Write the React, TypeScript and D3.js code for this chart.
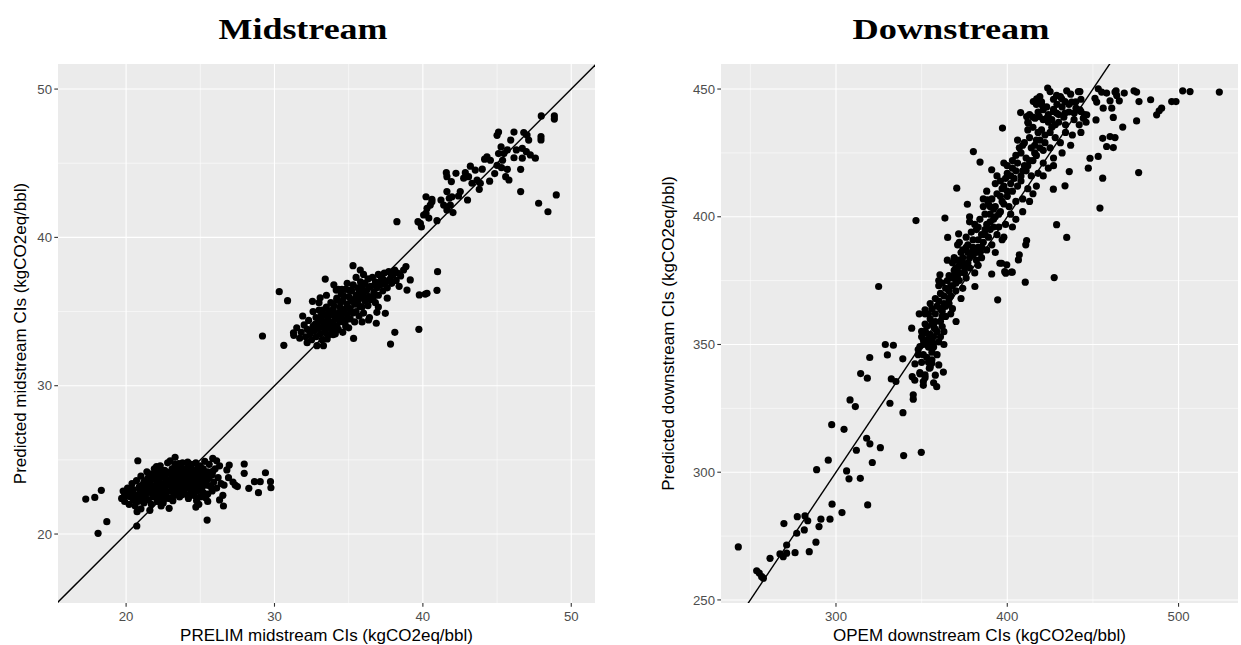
import React from "react";
import * as d3 from "d3";

// ---------- DATA ----------
const midTicks = [20, 30, 40, 50];
const midMinor = [25, 35, 45];
const downXTicks = [300, 400, 500];
const downXMinor = [250, 350, 450];
const downYTicks = [250, 300, 350, 400, 450];
const downYMinor = [275, 325, 375, 425];

// Midstream: [PRELIM, Predicted]
const midLow: [number, number][] = [
  [17.28, 22.36], [17.89, 22.47], [18.33, 22.95], [18.7, 20.83], [18.11, 20.05], [20.72, 20.54], [20.79, 24.94],
  [19.7, 22.4], [19.8, 22.9], [19.9, 22.2], [20.0, 22.6], [20.1, 23.1], [20.2, 22.0], [20.3, 22.8], [20.4, 23.4],
  [20.5, 22.3], [20.5, 23.0], [20.6, 21.9], [20.7, 22.6], [20.7, 23.6], [20.8, 22.2], [20.9, 23.2], [20.9, 22.7],
  [21.0, 21.7], [21.0, 23.9], [21.1, 22.4], [21.1, 23.3], [21.2, 22.9], [21.2, 22.1], [21.3, 23.6], [21.3, 22.6],
  [21.4, 24.2], [21.4, 23.1], [21.5, 22.3], [21.5, 23.8], [21.6, 22.8], [21.6, 23.4], [21.7, 22.0], [21.7, 24.0],
  [21.8, 23.1], [21.8, 22.5], [21.9, 23.7], [21.9, 24.4], [22.0, 22.8], [22.0, 23.3], [22.1, 22.2], [22.1, 24.1],
  [22.2, 23.6], [22.2, 22.9], [22.3, 23.2], [22.3, 24.6], [22.4, 22.5], [22.4, 23.9], [22.5, 23.4], [22.5, 22.1],
  [22.6, 24.3], [22.6, 23.0], [22.7, 23.7], [22.7, 22.7], [22.8, 24.8], [22.8, 23.3], [22.9, 22.4], [22.9, 24.1],
  [23.0, 23.6], [23.0, 22.9], [23.1, 24.4], [23.1, 23.2], [23.2, 22.6], [23.2, 23.9], [23.3, 24.7], [23.3, 23.4],
  [23.4, 22.8], [23.4, 24.2], [23.5, 23.7], [23.5, 23.1], [23.6, 24.5], [23.6, 22.5], [23.7, 23.9], [23.7, 23.3],
  [23.8, 24.8], [23.8, 22.9], [23.9, 24.1], [23.9, 23.5], [24.0, 22.7], [24.0, 24.4], [24.1, 23.8], [24.1, 23.1],
  [24.2, 24.6], [24.2, 22.4], [24.3, 23.6], [24.3, 24.0], [24.4, 22.9], [24.4, 24.7], [24.5, 23.4], [24.5, 23.9],
  [24.6, 22.6], [24.6, 24.3], [24.7, 23.2], [24.7, 24.8], [24.8, 23.7], [24.8, 22.9], [24.9, 24.2], [24.9, 23.4],
  [25.0, 22.5], [25.0, 24.6], [25.1, 23.9], [25.1, 23.1], [25.2, 24.4], [25.2, 22.8], [25.3, 23.6], [25.3, 24.9],
  [25.4, 23.3], [25.5, 24.2], [25.5, 22.7], [25.6, 23.8], [25.6, 24.7], [25.7, 23.2], [25.8, 24.0], [25.8, 22.9],
  [25.9, 23.5], [26.0, 24.4], [26.1, 23.1], [26.2, 23.8], [26.3, 24.6], [26.4, 23.4],
  [22.1, 23.5], [22.4, 23.1], [22.6, 23.8], [22.9, 23.5], [23.1, 23.8], [23.3, 23.0], [23.5, 24.0], [23.7, 23.6],
  [23.9, 23.8], [24.1, 24.2], [24.3, 23.3], [24.5, 23.6], [24.7, 23.9], [24.9, 23.7], [23.0, 24.2], [23.4, 23.6],
  [23.8, 24.3], [24.2, 23.9], [24.6, 24.0], [22.7, 23.4], [21.9, 23.0], [22.3, 22.7], [21.5, 23.2], [21.2, 23.5],
  [20.6, 22.4], [20.3, 22.5], [20.2, 23.0], [19.9, 22.7],
  [21.05, 23.05], [21.25, 22.75], [21.45, 23.55], [21.65, 23.15], [21.85, 22.75], [22.05, 23.95], [22.25, 23.45],
  [22.45, 22.85], [22.65, 24.05], [22.85, 23.65], [23.05, 23.25], [23.25, 24.45], [23.45, 22.95], [23.65, 23.85],
  [23.85, 23.15], [24.05, 23.55], [24.25, 24.35], [24.45, 23.15], [24.65, 23.55], [24.85, 24.45], [25.05, 23.35],
  [25.25, 24.05], [25.45, 23.65], [25.65, 23.25], [25.85, 24.25], [22.15, 22.55], [22.55, 22.35], [23.15, 22.25],
  [23.75, 22.65], [24.35, 22.65], [21.35, 22.35], [20.95, 22.95], [20.45, 22.65], [22.35, 24.25], [23.55, 24.75],
  [24.15, 24.85], [22.05, 24.55], [21.55, 24.05], [25.35, 22.45], [24.75, 22.25],
  [27.35, 23.3], [27.96, 24.72], [27.96, 24.09], [28.65, 23.53], [29.04, 23.53], [29.39, 24.13], [29.73, 23.53],
  [29.76, 23.12], [28.27, 23.08], [28.92, 22.79], [26.95, 24.65], [26.56, 21.89], [25.46, 20.94], [26.52, 22.61],
  [26.79, 24.32], [24.7, 21.82], [22.9, 21.73], [22.36, 21.89], [20.74, 21.51], [23.3, 25.17], [22.97, 24.94],
  [25.84, 25.1], [26.1, 24.94], [26.6, 23.3], [26.9, 23.8], [27.2, 23.5], [25.5, 22.2], [24.9, 22.0], [21.6, 21.6],
  [26.3, 22.3], [27.5, 23.2]
];

const midMid: [number, number][] = [
  [29.19, 33.35], [30.63, 32.72], [30.32, 36.34], [30.88, 35.73], [33.42, 37.19], [35.29, 38.09], [35.78, 37.8],
  [35.33, 33.19], [37.82, 32.81], [38.11, 33.6], [39.73, 33.8], [40.95, 36.43], [40.99, 37.69], [39.76, 36.12],
  [40.16, 36.18], [40.28, 36.23], [38.86, 38.03], [36.9, 34.95], [37.47, 34.88], [36.86, 34.21], [36.34, 34.43],
  [32.86, 32.7], [31.28, 33.57], [39.15, 37.13], [38.93, 36.45],
  [31.3, 33.4], [31.5, 33.9], [31.7, 33.2], [31.8, 33.6], [32.0, 34.1], [32.1, 33.3], [32.2, 33.8], [32.3, 34.4],
  [32.4, 33.5], [32.5, 33.1], [32.6, 34.0], [32.7, 33.7], [32.8, 34.6], [32.8, 33.3], [32.9, 34.2], [33.0, 33.9],
  [33.0, 35.1], [33.1, 33.5], [33.2, 34.4], [33.2, 33.1], [33.3, 34.0], [33.4, 34.8], [33.4, 33.6], [33.5, 35.3],
  [33.5, 34.2], [33.6, 33.4], [33.6, 34.6], [33.7, 35.0], [33.7, 33.9], [33.8, 34.3], [33.8, 35.6], [33.9, 33.7],
  [33.9, 34.8], [34.0, 34.1], [34.0, 35.4], [34.1, 33.5], [34.1, 34.5], [34.2, 35.9], [34.2, 34.0], [34.3, 34.9],
  [34.3, 33.8], [34.4, 35.3], [34.4, 34.3], [34.5, 36.2], [34.5, 34.7], [34.6, 33.6], [34.6, 35.7], [34.7, 34.4],
  [34.7, 35.1], [34.8, 36.5], [34.8, 34.0], [34.9, 35.5], [34.9, 34.8], [35.0, 36.0], [35.0, 33.9], [35.1, 35.2],
  [35.1, 34.5], [35.2, 36.4], [35.2, 35.8], [35.3, 34.9], [35.3, 36.8], [35.4, 35.5], [35.4, 34.3], [35.5, 36.1],
  [35.5, 35.0], [35.6, 36.6], [35.6, 35.6], [35.7, 34.7], [35.7, 36.3], [35.8, 35.9], [35.8, 37.0], [35.9, 35.3],
  [35.9, 36.6], [36.0, 36.0], [36.0, 34.9], [36.1, 36.9], [36.1, 35.7], [36.2, 36.4], [36.3, 35.4], [36.3, 37.2],
  [36.4, 36.0], [36.5, 36.7], [36.5, 35.8], [36.6, 37.3], [36.7, 36.3], [36.8, 35.6], [36.8, 37.0], [36.9, 36.6],
  [37.0, 37.5], [37.0, 36.1], [37.1, 36.8], [37.2, 37.3], [37.3, 36.4], [37.4, 37.6], [37.5, 37.0], [37.6, 36.6],
  [37.7, 37.7], [37.8, 37.2], [37.9, 36.9], [38.0, 37.5], [38.1, 37.8], [38.2, 37.1], [38.3, 37.6], [38.5, 37.4],
  [38.7, 37.8], [36.0, 37.5], [35.5, 37.3], [34.9, 36.9], [34.3, 36.5], [33.5, 36.1], [32.6, 35.0], [33.0, 35.6],
  [34.0, 36.8], [36.4, 34.6], [35.9, 34.3], [37.0, 35.3], [37.6, 35.9], [38.4, 36.7], [32.2, 32.9], [33.3, 32.7],
  [31.9, 34.7], [32.56, 35.69], [33.08, 35.93], [34.16, 36.45], [34.54, 36.5], [34.2, 35.78], [33.24, 35.1],
  [32.45, 33.75], [32.75, 34.15], [33.05, 34.45], [33.35, 33.85], [33.65, 34.25], [33.95, 35.15], [34.25, 34.65],
  [34.55, 35.05], [34.85, 35.25], [35.15, 35.75], [35.45, 35.85], [35.75, 35.35], [36.05, 36.35], [36.35, 36.65],
  [36.65, 35.95], [36.95, 36.95], [37.25, 36.85], [33.15, 34.75], [33.85, 34.95], [34.45, 35.65], [35.05, 36.45],
  [35.65, 36.15], [34.15, 33.75], [34.75, 34.25], [33.55, 33.15], [34.65, 36.05], [35.95, 36.85], [37.35, 37.15],
  [37.85, 37.55], [33.95, 33.45]
];

const midHigh: [number, number][] = [
  [38.25, 41.06], [39.67, 41.06], [39.83, 40.95], [40.05, 41.51], [40.21, 41.63], [40.28, 41.96], [40.5, 42.18],
  [40.61, 42.4], [40.21, 42.74], [40.61, 42.57], [40.95, 41.13], [41.22, 42.52], [41.4, 42.18], [41.62, 41.85],
  [41.78, 42.64], [41.85, 42.18], [42.03, 41.67], [41.62, 43.09], [41.96, 42.74], [41.58, 44.36], [41.62, 44.09],
  [41.92, 43.76], [42.23, 44.32], [42.52, 43.09], [42.86, 44.36], [43.01, 42.52], [42.4, 42.79], [42.75, 43.99],
  [43.08, 44.09], [43.31, 43.65], [43.53, 44.54], [43.65, 43.87], [43.87, 43.65], [43.8, 43.24], [44.16, 45.27],
  [44.32, 45.43], [44.55, 45.2], [44.5, 43.79], [44.84, 44.3], [45.0, 44.86], [45.1, 45.65], [45.27, 46.1],
  [45.37, 45.2], [45.0, 46.88], [45.1, 47.1], [45.58, 44.09], [45.8, 43.87], [45.69, 44.59], [45.46, 45.65],
  [45.69, 45.9], [45.92, 46.56], [46.14, 47.1], [46.14, 45.37], [46.59, 44.59], [46.59, 43.09], [46.7, 45.34],
  [46.7, 46.0], [46.8, 47.07], [47.02, 46.9], [47.13, 46.56], [46.97, 45.78], [47.24, 45.56], [47.58, 45.34],
  [47.98, 48.19], [48.86, 48.19], [48.86, 47.98], [47.96, 46.79], [47.96, 46.57], [47.8, 42.3], [48.43, 41.73],
  [48.99, 42.86], [39.9, 40.7], [40.4, 41.3], [43.2, 44.8], [44.0, 44.6], [45.3, 44.7], [46.3, 45.9]
];

// Downstream: [OPEM, Predicted]
const downSparse: [number, number][] = [
  [242.97, 270.75], [253.7, 261.4], [255.2, 260.5], [256.6, 259.1], [257.6, 258.5], [261.5, 266.3], [267.3, 268.0],
  [269.2, 266.95], [271.2, 268.3], [271.2, 271.5], [276.1, 268.5], [277.1, 276.1], [281.5, 277.4], [284.4, 268.9],
  [288.3, 272.6], [290.1, 278.7], [269.6, 279.9], [277.4, 282.6], [281.9, 282.9], [283.5, 281.0], [291.2, 281.6],
  [296.5, 281.6], [297.7, 287.5], [303.5, 284.2], [318.5, 287.2], [288.7, 301.0], [295.5, 304.7], [297.5, 318.6],
  [304.7, 316.8], [306.2, 300.5], [307.6, 297.4], [314.2, 297.6], [321.2, 303.8], [311.9, 308.6], [317.9, 313.3],
  [319.8, 311.1], [325.9, 309.6], [339.5, 306.5], [349.8, 307.8], [308.2, 328.3], [311.3, 325.7], [314.4, 338.6],
  [318.3, 336.8], [319.7, 344.9], [328.8, 350.0], [333.5, 349.7], [330.0, 345.9], [339.0, 344.4], [331.5, 327.0],
  [339.1, 323.3], [332.3, 336.5], [335.0, 335.5], [345.1, 330.3], [345.1, 328.6], [346.1, 342.4], [344.5, 337.4],
  [349.0, 338.5], [352.0, 338.1], [351.0, 335.5], [358.8, 333.5], [362.7, 339.2], [344.2, 356.4], [348.6, 362.0],
  [352.0, 363.6], [349.0, 349.2], [351.0, 351.8], [352.9, 354.4], [356.8, 358.3], [350.0, 355.1], [356.8, 350.5],
  [355.9, 342.7], [354.5, 340.7], [324.9, 372.7], [360.7, 377.3], [370.1, 359.0], [381.1, 372.7], [394.4, 367.5],
  [410.5, 374.4], [402.9, 378.3], [399.1, 377.9], [390.9, 377.6], [396.7, 381.8], [427.4, 376.2],
  [423.6, 450.4], [434.7, 449.3], [441.5, 449.0], [442.4, 449.0], [453.1, 450.1], [455.1, 448.8], [458.0, 448.4],
  [463.5, 449.3], [463.9, 447.5], [468.3, 448.4], [474.0, 449.3], [475.5, 448.8], [476.9, 445.1], [483.7, 445.8],
  [487.2, 439.9], [490.1, 442.5], [488.7, 441.5], [496.0, 445.1], [498.5, 445.1], [502.4, 449.3], [506.7, 449.0],
  [523.8, 448.8], [415.2, 445.1], [417.2, 446.2], [420.1, 443.8], [421.0, 441.9], [428.8, 447.5], [431.8, 446.2],
  [433.7, 445.1], [437.6, 444.9], [440.1, 442.5], [442.4, 441.9], [451.2, 446.4], [452.2, 444.9], [456.0, 442.5],
  [460.0, 445.4], [461.0, 442.5], [461.9, 438.9], [462.9, 448.8], [465.4, 445.4], [407.8, 440.8], [411.3, 439.2],
  [412.3, 436.6], [416.2, 438.6], [418.7, 439.2], [423.0, 438.6], [426.9, 441.2], [428.8, 440.6], [433.7, 440.6],
  [439.1, 440.6], [443.0, 441.2], [444.4, 438.6], [446.4, 439.9], [451.8, 437.9], [475.5, 437.5], [467.4, 435.1],
  [455.7, 430.7], [460.0, 431.4], [462.9, 431.0], [458.0, 427.5], [461.9, 427.1], [397.2, 434.7], [380.2, 425.5],
  [384.1, 421.4], [390.9, 418.4], [370.5, 411.2], [376.7, 404.9], [388.4, 406.6], [346.7, 398.5], [363.6, 399.5],
  [365.2, 391.9], [371.6, 393.3], [426.9, 410.8], [433.7, 412.1], [428.8, 396.9], [434.7, 391.9], [454.1, 403.4],
  [447.3, 419.0], [453.1, 423.6], [455.7, 415.1], [476.7, 417.3], [448.3, 422.9], [436.2, 417.7], [411.3, 390.7],
  [410.8, 389.0], [407.0, 385.1], [406.5, 383.1], [398.5, 378.5], [402.4, 378.3], [395.7, 381.8], [399.7, 381.2]
];

const downBand: [number, number][] = [
  [346, 336], [349, 339], [352, 337], [355, 341], [358, 338], [350, 343], [353, 345], [356, 344], [348, 346], [360, 342],
  [351, 334], [357, 335], [348, 348], [351, 350], [354, 352], [357, 349], [360, 351], [352, 355], [355, 354], [358, 356],
  [361, 353], [350, 353], [363, 355], [356, 347], [353, 357], [352, 358], [355, 360], [358, 362], [361, 359], [364, 361],
  [356, 364], [359, 365], [362, 363], [365, 366], [357, 357], [367, 362], [354, 362], [360, 367], [358, 368], [361, 370],
  [364, 372], [367, 369], [370, 371], [362, 374], [365, 375], [368, 373], [371, 376], [374, 372], [360, 373], [366, 366],
  [373, 368], [369, 377], [363, 366], [366, 377], [369, 379], [372, 381], [375, 378], [378, 380], [371, 383], [374, 384],
  [377, 382], [380, 385], [383, 381], [368, 382], [376, 376], [381, 378], [385, 384], [373, 386], [374, 387], [377, 389],
  [380, 391], [383, 388], [386, 390], [389, 392], [379, 394], [382, 395], [385, 393], [388, 387], [391, 389], [394, 393],
  [371, 389], [397, 391], [384, 386], [376, 392], [381, 397], [384, 399], [387, 401], [390, 398], [393, 400], [396, 402],
  [399, 397], [386, 404], [389, 405], [392, 403], [395, 396], [402, 401], [405, 399], [378, 400], [398, 405], [391, 407],
  [394, 409], [397, 411], [400, 408], [403, 410], [406, 412], [409, 407], [396, 414], [399, 415], [402, 413], [405, 406],
  [412, 411], [415, 409], [388, 410], [408, 414], [393, 413], [400, 417], [403, 419], [406, 421], [409, 418], [412, 420],
  [415, 422], [418, 417], [405, 424], [408, 425], [411, 423], [414, 416], [421, 421], [424, 419], [398, 421], [417, 424],
  [427, 423], [407, 427], [410, 429], [413, 431], [416, 428], [419, 430], [422, 432], [425, 427], [412, 434], [415, 435],
  [418, 433], [421, 426], [428, 431], [431, 429], [434, 433], [426, 435], [437, 428], [412, 437], [415, 439], [418, 441],
  [421, 438], [424, 440], [427, 442], [430, 437], [433, 439], [436, 441], [417, 444], [420, 445], [423, 443], [439, 438],
  [442, 436], [429, 444], [445, 440], [419, 447], [425, 449], [431, 447], [437, 448], [443, 446], [427, 446],
  [359, 346], [362, 357], [366, 371], [370, 380], [379, 386], [387, 395], [392, 396], [401, 404], [404, 415], [410, 420],
  [414, 427], [420, 434], [426, 438], [432, 443], [363, 350], [354, 349], [368, 364], [372, 375], [382, 383], [390, 401],
  [351, 346], [354, 343], [357, 353], [353, 351], [356, 358], [359, 355], [362, 361], [358, 359], [361, 364], [364, 365],
  [366, 368], [363, 369], [367, 373], [370, 374], [368, 376], [372, 378], [375, 380], [371, 380], [374, 382], [377, 386],
  [380, 388], [378, 384], [382, 386], [385, 388], [383, 391], [387, 393], [390, 395], [388, 397], [392, 399], [395, 401],
  [393, 404], [397, 406], [400, 410], [398, 412], [402, 416], [405, 418], [408, 416], [411, 418], [413, 422], [416, 425],
  [419, 427], [417, 430], [422, 429], [425, 433], [428, 436], [424, 437], [430, 440], [434, 436], [436, 444], [440, 445],
  [369, 384], [376, 388], [383, 396], [390, 404], [396, 408], [403, 422], [409, 428], [413, 440], [406, 430], [400, 420],
  [394, 416], [386, 407], [378, 398], [372, 390], [365, 383], [360, 375], [355, 366], [352, 362], [393, 386], [398, 392],
  [403, 396], [409, 402], [413, 406], [417, 412], [421, 416], [427, 420], [432, 425], [438, 432], [443, 433], [446, 437]
];

const titles = ["Midstream", "Downstream"];

// ---------- LAYOUT ----------
const W = 1241;
const H = 645;
const GREY = "#EBEBEB";
const TICK_TEXT = "#4D4D4D";
const TICK_LINE = "#333333";

type PanelProps = {
  id: string;
  x0: number; x1: number; y0: number; y1: number;
  xDomain: [number, number]; yDomain: [number, number];
  xTicks: number[]; xMinor: number[]; yTicks: number[]; yMinor: number[];
  points: [number, number][];
  xTitle: string; yTitle: string;
  yTitleX: number;
  title: string; titleX: number; titleLen: number;
};

function Panel(p: PanelProps) {
  const x = d3.scaleLinear().domain(p.xDomain).range([p.x0, p.x1]);
  const y = d3.scaleLinear().domain(p.yDomain).range([p.y1, p.y0]);
  const lo = Math.min(p.xDomain[0], p.yDomain[0]);
  const hi = Math.max(p.xDomain[1], p.yDomain[1]);
  const line = d3.line<number>().x((v) => x(v)).y((v) => y(v));
  const cx = (p.x0 + p.x1) / 2;
  const cy = (p.y0 + p.y1) / 2;
  return (
    <g>
      <defs>
        <clipPath id={p.id}>
          <rect x={p.x0} y={p.y0} width={p.x1 - p.x0} height={p.y1 - p.y0} />
        </clipPath>
      </defs>
      <text x={p.titleX} y={39} textAnchor="middle" fontFamily="'Liberation Serif', 'DejaVu Serif', serif"
        fontWeight="bold" fontSize={30} textLength={p.titleLen} lengthAdjust="spacingAndGlyphs" fill="#000">
        {p.title}
      </text>
      <rect x={p.x0} y={p.y0} width={p.x1 - p.x0} height={p.y1 - p.y0} fill={GREY} />
      {p.xMinor.map((v) => (
        <line key={"xm" + v} x1={x(v)} x2={x(v)} y1={p.y0} y2={p.y1} stroke="#fff" strokeWidth={0.55} />
      ))}
      {p.yMinor.map((v) => (
        <line key={"ym" + v} y1={y(v)} y2={y(v)} x1={p.x0} x2={p.x1} stroke="#fff" strokeWidth={0.55} />
      ))}
      {p.xTicks.map((v) => (
        <line key={"xg" + v} x1={x(v)} x2={x(v)} y1={p.y0} y2={p.y1} stroke="#fff" strokeWidth={1.1} />
      ))}
      {p.yTicks.map((v) => (
        <line key={"yg" + v} y1={y(v)} y2={y(v)} x1={p.x0} x2={p.x1} stroke="#fff" strokeWidth={1.1} />
      ))}
      <g clipPath={`url(#${p.id})`}>
        {p.points.map((d, i) => (
          <circle key={i} cx={x(d[0])} cy={y(d[1])} r={3.6} fill="#000" />
        ))}
        <path d={line([lo, hi]) || ""} stroke="#000" strokeWidth={1.4} fill="none" />
      </g>
      {p.xTicks.map((v) => (
        <g key={"xt" + v}>
          <line x1={x(v)} x2={x(v)} y1={p.y1} y2={p.y1 + 3.7} stroke={TICK_LINE} strokeWidth={1.1} />
          <text x={x(v)} y={p.y1 + 18} textAnchor="middle" fontFamily="'Liberation Sans', Arial, sans-serif"
            fontSize={13.2} fill={TICK_TEXT}>{v}</text>
        </g>
      ))}
      {p.yTicks.map((v) => (
        <g key={"yt" + v}>
          <line x1={p.x0 - 3.7} x2={p.x0} y1={y(v)} y2={y(v)} stroke={TICK_LINE} strokeWidth={1.1} />
          <text x={p.x0 - 6} y={y(v) + 4.6} textAnchor="end" fontFamily="'Liberation Sans', Arial, sans-serif"
            fontSize={13.2} fill={TICK_TEXT}>{v}</text>
        </g>
      ))}
      <text x={cx} y={641} textAnchor="middle" fontFamily="'Liberation Sans', Arial, sans-serif"
        fontSize={17} fill="#000">{p.xTitle}</text>
      <text transform={`translate(${p.yTitleX},${cy}) rotate(-90)`} textAnchor="middle"
        fontFamily="'Liberation Sans', Arial, sans-serif" fontSize={17} fill="#000">{p.yTitle}</text>
    </g>
  );
}

export default function App() {
  return (
    <svg width={W} height={H} style={{ position: "absolute", left: 0, top: 0, background: "#fff" }}>
      <rect x={0} y={0} width={W} height={H} fill="#fff" />
      <Panel
        id="clipMid"
        x0={58} x1={595} y0={64} y1={603}
        xDomain={[15.41, 51.6]} yDomain={[15.35, 51.69]}
        xTicks={midTicks} xMinor={midMinor} yTicks={midTicks} yMinor={midMinor}
        points={[...midLow, ...midMid, ...midHigh]}
        xTitle="PRELIM midstream CIs (kgCO2eq/bbl)"
        yTitle="Predicted midstream CIs (kgCO2eq/bbl)"
        yTitleX={26}
        title={titles[0]} titleX={303} titleLen={169}
      />
      <Panel
        id="clipDown"
        x0={721} x1={1238} y0={64} y1={603}
        xDomain={[232.87, 534.7]} yDomain={[248.8, 459.8]}
        xTicks={downXTicks} xMinor={downXMinor} yTicks={downYTicks} yMinor={downYMinor}
        points={[...downSparse, ...downBand]}
        xTitle="OPEM downstream CIs (kgCO2eq/bbl)"
        yTitle="Predicted downstream CIs (kgCO2eq/bbl)"
        yTitleX={674}
        title={titles[1]} titleX={951} titleLen={197}
      />
    </svg>
  );
}
